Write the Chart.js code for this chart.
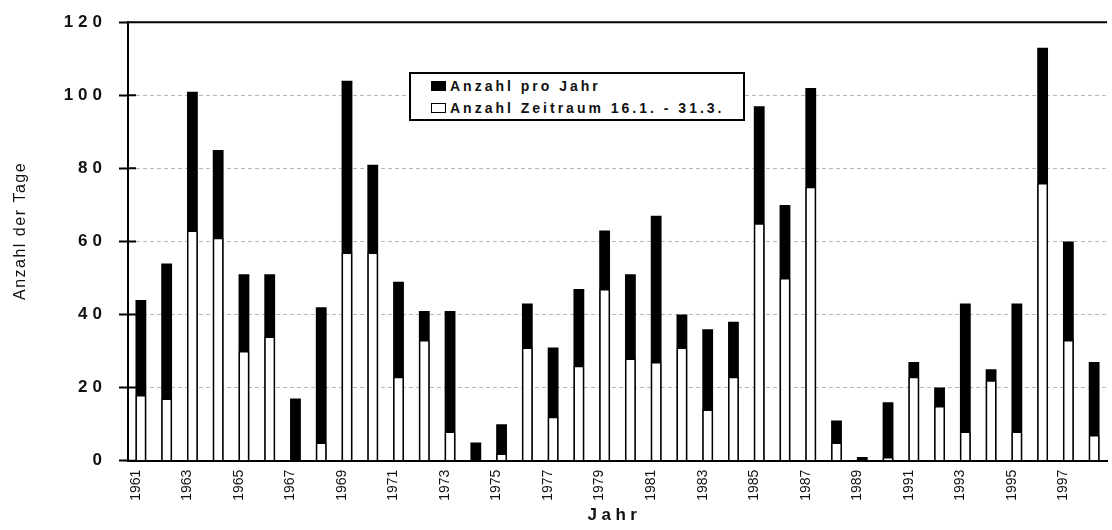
<!DOCTYPE html>
<html lang="de">
<head>
<meta charset="utf-8">
<title>Anzahl der Tage</title>
<script src="https://cdn.jsdelivr.net/npm/chart.js@4.4.1/dist/chart.umd.min.js"></script>
<style>
  html, body { margin: 0; padding: 0; overflow: hidden; background: #fff; }
  #wrap { position: relative; width: 1120px; height: 530px; }
  #legend {
    position: absolute; left: 409px; top: 72px; width: 336px; height: 49px;
    box-sizing: border-box; border: 2px solid #000; background: #fff;
    padding: 1px 0 0 20px; color: #111;
    font: bold 14px "Liberation Sans", Arial, sans-serif; letter-spacing: 3px;
  }
  #legend div { height: 22px; display: flex; align-items: center; white-space: nowrap; }
  #legend .box { width: 15px; height: 10px; box-sizing: border-box; border: 1.5px solid #000; margin-right: 4px; }
</style>
</head>
<body>
<div id="wrap"><canvas id="chart"></canvas><div id="legend"></div></div>
<script>
"use strict";

const years = [1961, 1962, 1963, 1964, 1965, 1966, 1967, 1968, 1969, 1970,
               1971, 1972, 1973, 1974, 1975, 1976, 1977, 1978, 1979, 1980,
               1981, 1982, 1983, 1984, 1985, 1986, 1987, 1988, 1989, 1990,
               1991, 1992, 1993, 1994, 1995, 1996, 1997, 1998];

// Anzahl pro Jahr
const totalDays = [44, 54, 101, 85, 51, 51, 17, 42, 104, 81,
                   49, 41, 41, 5, 10, 43, 31, 47, 63, 51,
                   67, 40, 36, 38, 97, 70, 102, 11, 1, 16,
                   27, 20, 43, 25, 43, 113, 60, 27];

// Anzahl Zeitraum 16.1. - 31.3.
const periodDays = [18, 17, 63, 61, 30, 34, 0, 5, 57, 57,
                    23, 33, 8, 0, 2, 31, 12, 26, 47, 28,
                    27, 31, 14, 23, 65, 50, 75, 5, 0, 1,
                    23, 15, 8, 22, 8, 76, 33, 7];

const yMin = 0;
const yMax = 120;
const yStep = 20;

const FONT = '"Liberation Sans", Arial, Helvetica, sans-serif';

// canvas letter spacing per scale (the scan has widely spaced type)
const spacing = {
    x: { ticks: "0px", title: "4.5px" },
    y: { ticks: "5px", title: "1.5px" }
};
const titleShift = {
    x: [-3, 0],
    y: [0, -10.5]
};

function spacedScale(Base, id) {
    class Spaced extends Base {
        drawLabels(chartArea) {
            const ctx = this.ctx;
            ctx.save();
            ctx.letterSpacing = spacing[this.id].ticks;
            super.drawLabels(chartArea);
            ctx.restore();
        }
        drawTitle() {
            const ctx = this.ctx;
            const shift = titleShift[this.id];
            ctx.save();
            ctx.letterSpacing = spacing[this.id].title;
            ctx.translate(shift[0], shift[1]);
            super.drawTitle();
            ctx.restore();
        }
    }
    Spaced.id = id;
    Spaced.defaults = Base.defaults;
    return Spaced;
}

Chart.register(spacedScale(Chart.CategoryScale, "spacedCategory"));
Chart.register(spacedScale(Chart.LinearScale, "spacedLinear"));

// solid top line and the inner half of the y tick marks
const framePlugin = {
    id: "frame",
    afterDraw(chart) {
        const ctx = chart.ctx;
        const area = chart.chartArea;
        const yScale = chart.scales.y;
        ctx.save();
        ctx.strokeStyle = "#000";
        ctx.lineWidth = 2;
        ctx.beginPath();
        ctx.moveTo(area.left, area.top);
        ctx.lineTo(area.right, area.top);
        yScale.ticks.forEach(function(tick) {
            const py = yScale.getPixelForValue(tick.value);
            ctx.moveTo(area.left, py);
            ctx.lineTo(area.left + 8, py);
        });
        ctx.stroke();
        ctx.restore();
    }
};

const totalDataset = {
    label: "Anzahl pro Jahr",
    data: totalDays,
    backgroundColor: "#000",
    borderColor: "#000",
    borderWidth: 0,
    order: 1
};

const periodDataset = {
    label: "Anzahl Zeitraum 16.1. - 31.3.",
    data: periodDays,
    backgroundColor: "#fff",
    borderColor: "#000",
    borderWidth: 1.5,
    order: 0
};

const oChart = new Chart(document.getElementById("chart").getContext("2d"), {
    type: "bar",
    data: {
        labels: years,
        datasets: [totalDataset, periodDataset]
    },
    options: {
        responsive: true,
        maintainAspectRatio: false,
        animation: false,
        events: [],
        layout: {
            padding: { top: 16.7, right: 4, bottom: 0, left: 0 }
        },
        datasets: {
            bar: { barPercentage: 0.42, categoryPercentage: 1 }
        },
        plugins: {
            legend: { display: false },
            tooltip: { enabled: false }
        },
        scales: {
            x: {
                type: "spacedCategory",
                stacked: true,
                offset: true,
                grid: { display: false, drawTicks: false },
                border: { display: true, color: "#000", width: 2 },
                ticks: {
                    autoSkip: false,
                    minRotation: 90,
                    maxRotation: 90,
                    padding: 9,
                    labelOffset: -5,
                    color: "#111",
                    font: { family: FONT, size: 14 },
                    callback: function(value, index) {
                        return index % 2 === 0 ? String(years[index]) : "";
                    }
                },
                title: {
                    display: true,
                    text: "Jahr",
                    color: "#111",
                    font: { family: FONT, size: 17, weight: "bold" },
                    padding: { top: 0, bottom: 4 }
                },
                afterFit: function(scale) {
                    scale.height = 69.3;
                }
            },
            y: {
                type: "spacedLinear",
                stacked: false,
                min: yMin,
                max: yMax,
                grid: {
                    color: function(ctx) {
                        const v = ctx.tick ? ctx.tick.value : null;
                        return (v === yMin || v === yMax) ? "rgba(0,0,0,0)" : "#b8b8b8";
                    },
                    lineWidth: 1,
                    drawTicks: true,
                    tickLength: 9,
                    tickColor: "#000",
                    tickWidth: 2
                },
                border: { display: true, color: "#000", width: 2, dash: [4, 3] },
                ticks: {
                    stepSize: yStep,
                    padding: 12,
                    color: "#111",
                    font: { family: FONT, size: 17, weight: "bold" }
                },
                title: {
                    display: true,
                    text: "Anzahl der Tage",
                    color: "#111",
                    font: { family: FONT, size: 16 },
                    padding: { top: 10.7, bottom: 0 }
                },
                afterFit: function(scale) {
                    scale.width = 128;
                }
            }
        }
    },
    plugins: [framePlugin]
});

// legend box inside the plot, built from the datasets
const legendEl = document.getElementById("legend");
[totalDataset, periodDataset].forEach(function(ds) {
    const row = document.createElement("div");
    const box = document.createElement("span");
    box.className = "box";
    box.style.background = ds.backgroundColor;
    row.appendChild(box);
    row.appendChild(document.createTextNode(ds.label));
    legendEl.appendChild(row);
});
</script>
</body>
</html>
